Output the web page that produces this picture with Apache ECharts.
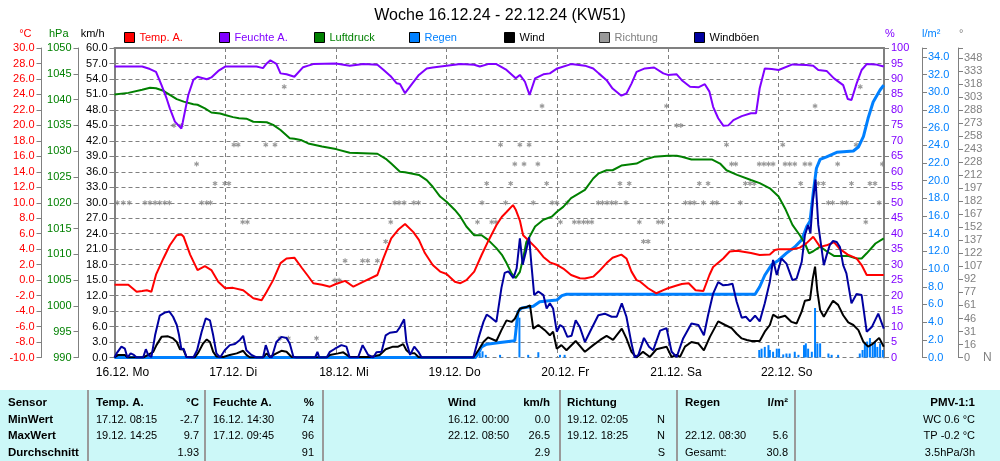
<!DOCTYPE html>
<html><head><meta charset="utf-8">
<script src="https://cdn.jsdelivr.net/npm/echarts@6/dist/echarts.min.js"></script>
<style>html,body{margin:0;padding:0;background:#fff}#c{width:1000px;height:461px}</style>
</head><body><div id="c"></div>
<script>
// ---- data (x = hours since 16.12.24 00:00) ----
const dayLabels = ['16.12. Mo','17.12. Di','18.12. Mi','19.12. Do','20.12. Fr','21.12. Sa','22.12. So'];
const degLabels = ['0','16','31','46','61','77','92','107','122','137','152','167','182','197','212','228','243','258','273','288','303','318','333','348'];

const tempData = [[0,-0.6],[3,-0.6],[4.8,-1.5],[6,-1.4],[7,-1.3],[8,-1.5],[9,0.7],[10.6,2.8],[12,4.5],[13.5,5.8],[14.5,5.9],[15,5.6],[16.4,3.3],[18,1.3],[19.6,1.8],[21,1.3],[22.5,-0.2],[24,-1.05],[25.7,-1.0],[27.9,-1.3],[30.1,-2.35],[31.9,-2.6],[33,-1.5],[34.4,0.0],[36,2.2],[37.3,2.8],[39,2.9],[40.6,1.6],[42,0.5],[43.1,-0.4],[45,-0.6],[46.7,-0.85],[48,-0.5],[50,-0.1],[51.8,-0.85],[54,-0.2],[57,0.66],[58.3,2.8],[60,5.4],[61.5,6.5],[63,7.25],[64.8,6.2],[66,5.2],[67.3,3.5],[69,1.95],[70.6,1.1],[72,0.8],[73.8,-0.2],[75,-0.4],[76.3,0.0],[78,1.1],[79.6,3.25],[81,5.0],[82.8,7.1],[84,8.2],[85,8.8],[86.4,9.7],[87,9.1],[87.9,7.7],[88.6,5.8],[90,5.0],[91.5,4.1],[93,3.0],[94.4,2.3],[96,1.95],[97.3,1.5],[99,0.66],[100.9,0.25],[102,0.2],[103.8,0.45],[105,1.1],[106.7,2.2],[108,2.9],[109.9,3.3],[111,2.8],[112.1,1.1],[113.2,0.0],[114,-0.2],[115.7,-1.05],[117.5,-1.7],[119,-1.3],[120,-1.05],[121.9,-0.7],[123,-0.5],[124.5,-0.4],[126,-1.3],[127.7,-1.4],[129,0.66],[129.8,1.7],[132,2.8],[133.4,3.7],[135,3.8],[138,3.5],[139.9,3.25],[142.1,3.3],[143.2,3.9],[144,4.0],[147,4.0],[148.6,4.2],[150,4.75],[151.5,5.6],[153,4.3],[154.4,4.5],[156,4.9],[157.3,4.0],[159,3.3],[160.9,2.8],[162,1.95],[163.1,0.66],[165,0.66],[166.8,0.66]];

const humData = [[0,94],[3,94],[6,94],[7.7,93.2],[9,92.3],[10.2,88],[11.3,83.7],[12,80.5],[13.1,76.2],[14,74.8],[14.5,74],[14.8,76],[16,84.8],[17.1,89.7],[18,90.7],[20,89.9],[21,90.5],[22.5,92.6],[24,94],[30.8,94],[32.2,93.5],[33,95],[33.8,96],[35.1,94.9],[36,91.8],[37.3,91.5],[39,90.7],[40.9,93.8],[42,94.3],[43.1,94.8],[48,95],[51,94.3],[54,94.8],[57,94.6],[58.3,93],[60,90.7],[61.2,88.6],[61.9,88.4],[63,85.4],[64.1,87.6],[66,91.3],[67.7,93.4],[69,93.7],[72,94.3],[75,94.8],[78,94.6],[79.2,94],[81,94.8],[82.8,94.8],[85,92.9],[87,90.2],[87.9,91.3],[89,89.1],[90,84.8],[91.2,90.2],[93,91.5],[94.4,91.8],[96,93.4],[99,94.8],[102,94.3],[103.8,93.4],[105,91.8],[106.7,89.6],[108,86.9],[109.9,84.6],[111,85.3],[112.1,88.5],[113.2,92.3],[115,93.4],[117,93.7],[119,91.8],[120,91.3],[121.9,91.5],[123,89.6],[124.8,87.5],[126.6,87.3],[128,88.3],[129,85.9],[129.8,81],[130.9,77.3],[132,74.9],[133.1,75],[134.2,76.7],[136,78],[138,78.9],[139.1,78.9],[139.9,87],[141,93.4],[142.5,93.2],[144,92.9],[147,94.7],[150,94.5],[151.5,94.3],[152.6,92.9],[154.4,92.6],[156,90.2],[158,88],[159,83.5],[159.8,83.2],[160.9,88.5],[162,92.9],[163.1,94.8],[165,94.7],[166.8,94]];

const presData = [[0,1041.0],[3,1041.3],[6,1041.9],[7.7,1042.3],[9,1042.2],[10.6,1041.7],[12,1040.9],[13.5,1040.1],[15,1039.6],[17.1,1039.1],[18,1039.0],[19.6,1038.3],[21,1037.5],[22.9,1037.3],[24,1037.0],[25.7,1036.6],[27,1036.4],[28.6,1036.3],[30.1,1035.7],[33,1035.6],[34.4,1035.1],[36,1034.1],[38,1032.5],[39,1032.4],[40.6,1032.1],[42,1031.5],[45,1030.9],[48,1030.4],[51,1029.7],[54,1029.6],[57,1029.5],[59,1028.4],[60,1027.6],[61.9,1026.0],[63,1025.9],[66,1025.4],[67.7,1024.4],[69,1023.1],[70.6,1021.2],[72,1020.2],[73.8,1018.6],[75,1017.3],[76.3,1015.4],[78,1013.7],[79.6,1013.7],[81,1012.8],[82.8,1011.2],[84,1009.9],[85,1008.3],[86.1,1006.3],[87,1005.4],[87.9,1006.6],[88.6,1009.2],[89.3,1012.4],[90,1013.4],[91.2,1015.4],[93,1016.7],[94.8,1017.3],[96,1018.3],[97.3,1019.2],[99,1020.9],[102,1022.5],[103.8,1024.7],[105,1025.7],[106.7,1026.3],[108,1026.3],[109.9,1027.2],[113.2,1027.6],[115,1028.4],[117,1028.9],[120,1029.1],[121.9,1029.1],[123,1028.9],[125.1,1028.4],[129.5,1028.4],[131.3,1027.6],[132.7,1026.3],[135,1025.4],[138,1024.4],[139.9,1023.8],[142.1,1022.8],[144,1021.2],[145.4,1018.9],[147,1015.7],[148.6,1013.7],[149.7,1012.1],[150.6,1010.2],[151.5,1010.6],[153,1011.5],[154.4,1010.6],[156,1009.7],[159,1009.7],[160.9,1009.2],[162,1009.2],[163.1,1010.2],[165,1012.1],[166.8,1013.1]];

const rainSum = [[0,0],[78.3,0],[78.9,0.47],[79.6,1.2],[80.7,1.5],[83.6,1.7],[86.8,1.9],[87.5,5.2],[88.3,5.6],[90.8,5.8],[92.2,6.3],[95.9,6.5],[97,7.0],[98,7.15],[138.9,7.15],[139.9,8.0],[141,9.3],[142.5,10.5],[144,11.0],[145.7,11.8],[147.5,12.5],[149,13.3],[150.1,14.8],[150.8,15.4],[151.5,18.6],[152.2,21.4],[153,22.4],[154.4,22.7],[156.6,23.2],[160.2,23.35],[161.3,23.8],[162.4,25.0],[163.4,27.05],[164.5,28.9],[166,30.25],[166.8,30.8]];

const rainBars = [[79.2,0.5],[79.8,0.7],[80.5,0.3],[83.6,0.3],[87.8,4.5],[89.7,0.3],[91.9,0.6],[96.6,0.3],[97.6,0.3],[139.8,0.85],[140.3,1.0],[141.0,1.2],[141.8,1.4],[142.1,0.85],[142.8,0.65],[143.6,1.0],[144.1,1.0],[145.0,0.35],[145.7,0.45],[146.4,0.45],[147.5,0.65],[148.3,0.3],[149.5,1.4],[149.9,1.6],[150.4,1.0],[151.2,0.65],[151.9,5.6],[152.4,1.6],[153.0,1.6],[154.8,0.45],[155.5,0.3],[156.9,0.3],[161.6,0.45],[162.2,0.85],[162.7,1.6],[163.2,1.8],[163.8,2.2],[164.4,1.4],[164.9,1.8],[165.4,1.2],[166.0,1.6],[166.6,0.85]];

const windData = [[0,0],[0.8,0.5],[2.25,0.5],[2.8,0],[6.2,0],[7.3,0.5],[8.4,1.1],[9.1,2.4],[10.2,4.0],[11.6,4.1],[12.7,3.7],[13.5,3.0],[14.2,1.6],[14.9,1.6],[15.6,0.1],[17.4,0],[18.2,1.0],[19.2,2.7],[20,3.5],[20.7,3.0],[21.4,1.1],[22.1,0.2],[23.6,0.1],[25,0.5],[26.5,0.8],[27.9,1.3],[28.6,0.5],[29.4,0],[32.2,0],[33,0.8],[33.7,0.1],[35.1,0.8],[36.2,1.3],[37.3,1.1],[38.4,0.1],[39.5,0],[46,0],[46.7,0.5],[48.5,0.8],[49.6,1.0],[51,0.1],[55.4,0.1],[57.5,0.5],[58.8,1.6],[60.4,2.1],[61.5,2.1],[62.6,2.6],[63.3,1.4],[64.1,0.8],[65.1,0.8],[65.9,0.1],[66.6,0],[77.8,0],[78.9,1.4],[80,3.0],[81,3.9],[81.4,3.7],[82.8,3.2],[83.9,5.3],[85,7.2],[86.1,6.9],[86.8,7.5],[87.9,9.5],[89.4,9.8],[90.1,10.1],[90.8,5.6],[91.9,6.3],[93.3,5.3],[94.4,4.3],[95.1,5.0],[95.9,1.7],[96.9,2.4],[98,1.4],[100,3.2],[102,1.1],[103.8,2.4],[105.3,3.4],[106.7,4.2],[108.1,3.4],[110,5.6],[111,3.7],[112.1,1.1],[113.2,0],[114.6,1.1],[116.1,0.1],[117.5,1.6],[119.7,2.1],[120.8,0.1],[121.9,0.5],[122.6,0.1],[123.7,2.1],[125.1,3.0],[126.6,2.7],[127.8,1.4],[129.1,4.0],[130.9,7.0],[132.4,6.3],[133.8,5.7],[134.9,4.6],[136,3.7],[137.1,3.4],[138.1,3.2],[139.9,3.2],[141,5.0],[142.1,6.3],[142.8,8.3],[143.9,7.7],[145.4,8.1],[146.8,6.9],[147.9,6.6],[149,8.9],[149.7,11.0],[150.8,11.2],[151.4,15.3],[151.9,17.6],[152.4,12.8],[153,9.2],[153.8,7.9],[154.8,9.5],[155.8,11.0],[156.9,10.2],[158,8.2],[159.1,6.8],[160.2,6.3],[161.3,5.3],[162.4,3.0],[163.4,2.1],[164.5,2.7],[165.8,3.8],[166.8,2.1]];

const gustData = [[0,0],[0.45,0.8],[1.5,2.1],[2.25,1.7],[2.8,0],[3.5,0.8],[4.2,0.5],[4.8,0],[6.2,0],[6.8,1.6],[7.3,0.5],[8,0.1],[8.8,4.3],[9.8,8.1],[10.9,8.7],[11.9,8.9],[12.7,7.9],[13.5,6.3],[14,4.3],[14.5,1.6],[15,1.7],[15.6,0.1],[17.1,0],[17.9,1.4],[18.9,5.0],[19.8,7.6],[20.7,7.2],[21.4,4.3],[22.1,0.8],[22.9,0],[23.9,1.4],[25,2.4],[26.1,2.6],[27.2,3.4],[27.9,4.2],[28.6,1.4],[29.7,0.5],[30.8,0],[32.2,0],[32.8,2.4],[33.6,0.3],[34.1,0],[35.1,3.0],[36.2,4.0],[37.3,3.8],[38,2.7],[38.8,0.1],[39.5,0],[43.5,0],[44,1.1],[44.4,0],[46,0],[46.7,1.1],[47.8,1.7],[49.2,2.4],[50.3,2.1],[51,0],[52.8,0],[53.8,2.4],[55,0.5],[56.1,0],[56.8,1.0],[57.9,1.1],[58.8,4.3],[59.7,4.8],[61.2,5.0],[61.9,5.9],[62.8,7.4],[63.3,3.0],[64.1,0.5],[65,2.1],[65.9,1.1],[66.6,0],[77.8,0],[78.9,3.7],[80,6.9],[80.7,8.3],[81.4,7.9],[82.8,6.9],[83.9,13.5],[84.6,16.4],[85.4,16.7],[86.5,15.4],[87.2,17.3],[87.9,23.1],[88.5,18.0],[89.2,20.5],[89.9,23.3],[90.4,18],[91,12.1],[91.9,12.8],[93,12.1],[93.7,9.5],[94.4,10.5],[95.1,9.5],[95.9,5.0],[96.6,6.3],[97.3,5.9],[98.2,4.0],[99.1,4.2],[100,7.2],[100.9,5.9],[102,3.0],[103.1,5.0],[104.9,8.2],[106.3,8.5],[107.8,7.9],[108.9,7.9],[110,10.5],[111,7.9],[112.1,2.7],[112.8,0],[113.6,0.5],[114.8,3.8],[115.9,2.1],[116.8,1.4],[118.3,5.2],[119.7,5.7],[120.8,1.1],[121.9,0.1],[123.3,3.7],[125.1,6.6],[126.6,6.3],[127.8,4.3],[128.7,8.2],[129.8,12.4],[130.9,14.6],[132,14.0],[133.1,14.1],[134,14.3],[134.9,10.8],[136,7.7],[136.9,7.9],[137.8,7.0],[138.9,8.1],[139.9,7.0],[141,10.5],[142.1,14.7],[142.8,18.9],[143.6,16.0],[144.6,19.2],[145.7,18.2],[147,15.0],[147.9,15.3],[149,18.5],[149.7,23.7],[150.4,25.7],[150.9,24.1],[151.4,30.2],[152,34.5],[152.6,25.7],[153.3,21.2],[153.8,17.9],[154.4,19.8],[155.1,21.8],[155.8,22.6],[156.6,22.4],[157.3,21.4],[158,17.9],[158.7,16.3],[159.8,10.5],[160.9,12.3],[162,12.1],[163.1,5.0],[164.2,5.9],[165.6,8.5],[166.8,5.6]];

const dirS = [0.6,1.9,3.2,6.6,7.7,8.8,9.8,10.9,11.9,18.9,20.0,20.8,60.8,61.7,62.8,64.9,65.9,79.7,84.8,90.8,94.9,95.9,98.2,104.9,105.8,106.8,107.8,108.7,110.9,123.8,124.8,125.7,127.7,129.7,130.6,135.7,154.8,155.7,157.8,158.7,165.8];
const dirW = [12.9,14.5,121.9,122.8];
const dirSW = [17.8,86.8,88.8,91.8,133.8,134.7,139.8,140.8,141.8,142.8,145.4,146.4,147.5,149.7,150.8,156.8,166.5];
const dirSSW = [21.8,23.9,24.8,80.7,85.9,93.7,109.6,111.6,126.8,128.7,136.8,137.8,138.7,148.8,152.6,153.7,159.8,163.8,164.9];
const dirWSW = [25.9,26.8,32.8,34.8,83.7,87.9,89.9,132.7,144.9,160.8];
const dirSSE = [27.8,28.8,59.9,78.7,81.8,82.7,96.7,99.7,100.7,101.7,102.6,103.5,113.8,117.9,118.8,162.9];
const dirNW = [36.8,161.7];
const dirNNE = [35.9,37.7,43.8];
const dirE = [47.8,48.7];
const dirESE = [50.0,53.8,54.9,57.0];
const dirSE = [58.8,114.7,115.7];
const dirWNW = [92.7,119.7,151.9];
const dirData = [].concat(
  dirS.map(h=>[h,180]), dirW.map(h=>[h,270]), dirSW.map(h=>[h,225]), dirSSW.map(h=>[h,202.5]),
  dirWSW.map(h=>[h,247.5]), dirSSE.map(h=>[h,157.5]), dirNW.map(h=>[h,315]), dirNNE.map(h=>[h,22.5]),
  dirE.map(h=>[h,90]), dirESE.map(h=>[h,112.5]), dirSE.map(h=>[h,135]), dirWNW.map(h=>[h,292.5]));

// legend entries
const legendNames = ['Temp. A.','Feuchte A.','Luftdruck','Regen','Wind','Richtung','Windböen'];
const legendFill  = ['#FF0000','#8000FF','#008000','#0080FF','#000000','#808080','#0000A0'];
const legendText  = ['#FF0000','#8000FF','#008000','#0080FF','#000000','#808080','#000000'];

// summary table text
const tableCols = [
  {x:8, align:'left', cells:[['Sensor',1],['MinWert',1],['MaxWert',1],['Durchschnitt',1]]},
  {x:96, align:'left', cells:[['Temp. A.',1],['17.12. 08:15',0],['19.12. 14:25',0],['',0]]},
  {x:199, align:'right', cells:[['°C',1],['-2.7',0],['9.7',0],['1.93',0]]},
  {x:213, align:'left', cells:[['Feuchte A.',1],['16.12. 14:30',0],['17.12. 09:45',0],['',0]]},
  {x:314, align:'right', cells:[['%',1],['74',0],['96',0],['91',0]]},
  {x:448, align:'left', cells:[['Wind',1],['16.12. 00:00',0],['22.12. 08:50',0],['',0]]},
  {x:550, align:'right', cells:[['km/h',1],['0.0',0],['26.5',0],['2.9',0]]},
  {x:567, align:'left', cells:[['Richtung',1],['19.12. 02:05',0],['19.12. 18:25',0],['',0]]},
  {x:665, align:'right', cells:[['',0],['N',0],['N',0],['S',0]]},
  {x:685, align:'left', cells:[['Regen',1],['',0],['22.12. 08:30',0],['Gesamt:',0]]},
  {x:788, align:'right', cells:[['l/m²',1],['',0],['5.6',0],['30.8',0]]},
  {x:975, align:'right', cells:[['PMV-1:1',1],['WC 0.6 °C',0],['TP -0.2 °C',0],['3.5hPa/3h',0]]}
];
const tableSeps = [88, 205, 323, 560, 677, 795];

// ---- chart ----
const FF = '"Liberation Sans", Arial, sans-serif';
const GRAY = '#808080';
const rowY = [403, 419.5, 436, 452.5];
const graphics = [{type:'rect', shape:{x:0, y:390, width:1000, height:71}, style:{fill:'#CCF8F8'}, silent:true}];
tableSeps.forEach(x => graphics.push({type:'line', shape:{x1:x, y1:390, x2:x, y2:461}, style:{stroke:'#9A9A9A', lineWidth:2}, silent:true}));
tableCols.forEach(c => c.cells.forEach((cell, r) => {
  if (!cell[0]) return;
  graphics.push({type:'text', x:c.x, y:rowY[r], silent:true,
    style:{text:cell[0], fill:'#000', align:c.align, verticalAlign:'middle',
      font:(cell[1] ? 'bold 11.5px ' : '11px ') + FF}});
}));
graphics.push({type:'text', x:983, y:358, silent:true, style:{text:'N', fill:GRAY, align:'left', verticalAlign:'middle', font:'12px '+FF}});

const legends = legendNames.map((n, i) => ({
  left:124 + 95*i, top:32, itemWidth:10, itemHeight:10, itemGap:0, icon:'rect', padding:0,
  textStyle:{fontSize:11, fontFamily:FF, color:legendText[i]},
  data:[{name:n, itemStyle:{color:legendFill[i], borderColor:'#000', borderWidth:1}}]
}));

const degStep = 348/23;
function yAx(o) {
  return Object.assign({
    type:'value', nameLocation:'end', nameGap:9,
    axisLine:{show:true, onZero:false, lineStyle:{color:GRAY, width:1}},
    axisTick:{show:true, length:5, lineStyle:{color:GRAY}},
    splitLine:{show:false}
  }, o);
}
const xMax = 166.85;
const option = {
  animation:false,
  backgroundColor:'#fff',
  textStyle:{fontFamily:FF},
  title:{text:'Woche 16.12.24 - 22.12.24 (KW51)', left:'center', top:3,
    textStyle:{fontSize:16, fontWeight:'normal', color:'#000', fontFamily:FF}},
  legend:legends,
  grid:{left:114.5, right:116, top:48, bottom:103.5, containLabel:false},
  xAxis:[
    {type:'value', min:0, max:xMax, interval:24, position:'bottom',
      axisLine:{show:false}, axisTick:{show:false},
      splitLine:{show:true, lineStyle:{color:GRAY, type:[4,3], width:1}},
      axisLabel:{color:'#000', fontSize:12, margin:9, padding:[0,0,0,16], showMaxLabel:false,
        formatter:v => { const i = Math.round(v/24); return (Math.abs(v-i*24)<1e-6 && i<dayLabels.length) ? dayLabels[i] : ''; }}},
    {type:'value', min:0, max:xMax, position:'top',
      axisLine:{show:true, onZero:false, lineStyle:{color:GRAY, width:2}}, axisTick:{show:false},
      axisLabel:{show:false}, splitLine:{show:false}}
  ],
  yAxis:[
    yAx({position:'left', offset:0, min:0, max:60, interval:3, name:'km/h',
      nameTextStyle:{color:'#000', fontSize:11, align:'right', padding:[0,10,0,0]},
      axisLine:{show:true, onZero:false, lineStyle:{color:GRAY, width:2}},
      axisLabel:{color:'#000', fontSize:11, margin:7, formatter:v=>v.toFixed(1)},
      splitLine:{show:true, lineStyle:{color:GRAY, type:[4,3], width:1}}}),
    yAx({position:'left', offset:73, min:-10, max:30, interval:2, name:'°C',
      nameTextStyle:{color:'#FF0000', fontSize:11, align:'right', padding:[0,10,0,0]},
      axisLabel:{color:'#FF0000', fontSize:11, margin:7, formatter:v=>v.toFixed(1)}}),
    yAx({position:'left', offset:36, min:990, max:1050, interval:5, name:'hPa',
      nameTextStyle:{color:'#008000', fontSize:11, align:'right', padding:[0,10,0,0]},
      axisLabel:{color:'#008000', fontSize:11, margin:7, formatter:v=>String(Math.round(v))}}),
    yAx({position:'right', offset:0, min:0, max:100, interval:5, name:'%',
      nameTextStyle:{color:'#8000FF', fontSize:11, align:'left', padding:[0,0,0,1]},
      axisLine:{show:true, onZero:false, lineStyle:{color:GRAY, width:2}},
      axisLabel:{color:'#8000FF', fontSize:11, margin:7, formatter:v=>String(Math.round(v))}}),
    yAx({position:'right', offset:38, min:0, max:35, interval:2, name:'l/m²',
      nameTextStyle:{color:'#0080FF', fontSize:11, align:'left', padding:[0,0,0,0]},
      axisLabel:{color:'#0080FF', fontSize:11, margin:6,
        formatter:v => (Math.abs(v/2-Math.round(v/2))<1e-6 ? v.toFixed(1) : '')}}),
    yAx({position:'right', offset:74, min:0, max:360, interval:degStep, name:'°',
      nameTextStyle:{color:GRAY, fontSize:11, align:'left', padding:[0,0,0,1]},
      axisLabel:{color:GRAY, fontSize:11, margin:6,
        formatter:v => { const i = Math.round(v/degStep); return (i<degLabels.length && Math.abs(v-i*degStep)<0.01) ? degLabels[i] : ''; }}})
  ],
  series:[
    {type:'scatter', name:'Richtung', yAxisIndex:5, data:dirData,
      symbol:'path://M2,0H3V1.5L4.3,0.8L4.8,1.7L3.5,2.5L4.8,3.3L4.3,4.2L3,3.5V5H2V3.5L0.7,4.2L0.2,3.3L1.5,2.5L0.2,1.7L0.7,0.8L2,1.5Z',
      symbolSize:5, itemStyle:{color:GRAY}, silent:true, z:1},
    {type:'bar', name:'Regen', yAxisIndex:4, data:rainBars, barWidth:2, itemStyle:{color:'#0080FF'}, silent:true, z:2},
    {type:'line', name:'Regen', yAxisIndex:4, data:rainSum, showSymbol:false, lineStyle:{color:'#0080FF', width:3}, itemStyle:{color:'#0080FF'}, z:2},
    {type:'line', name:'Luftdruck', yAxisIndex:2, data:presData, showSymbol:false, lineStyle:{color:'#008000', width:2}, itemStyle:{color:'#008000'}, z:3},
    {type:'line', name:'Feuchte A.', yAxisIndex:3, data:humData, showSymbol:false, lineStyle:{color:'#8000FF', width:2}, itemStyle:{color:'#8000FF'}, z:3},
    {type:'line', name:'Temp. A.', yAxisIndex:1, data:tempData, showSymbol:false, lineStyle:{color:'#FF0000', width:2}, itemStyle:{color:'#FF0000'}, z:3},
    {type:'line', name:'Wind', yAxisIndex:0, data:windData, showSymbol:false, lineStyle:{color:'#000', width:2}, itemStyle:{color:'#000'}, z:4},
    {type:'line', name:'Windböen', yAxisIndex:0, data:gustData, showSymbol:false, lineStyle:{color:'#0000A0', width:2}, itemStyle:{color:'#0000A0'}, z:4}
  ],
  graphic:graphics
};
const chart = echarts.init(document.getElementById('c'), null, {renderer:'canvas'});
chart.setOption(option);
</script>
</body></html>
